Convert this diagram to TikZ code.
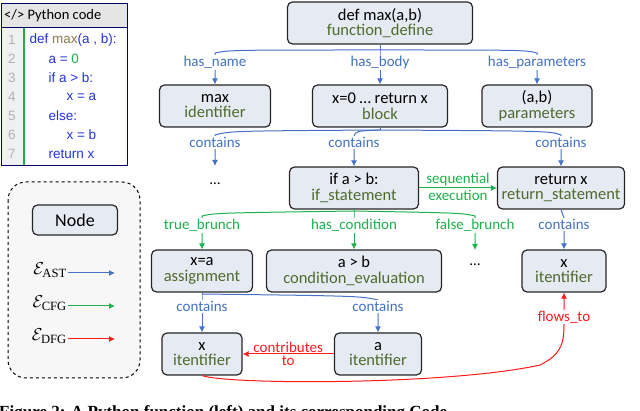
\documentclass[tikz,border=0pt]{standalone}
\usepackage{fontspec}
\usepackage{amsmath}
\setmainfont{Carlito}
\newfontfamily\codefont{Liberation Sans}
\newfontfamily\capfont{Liberation Serif}
\usetikzlibrary{arrows.meta,positioning}
\definecolor{astblue}{HTML}{4472C4}
\definecolor{cfggreen}{HTML}{1DB04B}
\definecolor{dfgred}{HTML}{FF1A1A}
\definecolor{typegreen}{HTML}{4E6B2E}
\definecolor{nodefill}{HTML}{E6EAF2}
\definecolor{kwblue}{HTML}{2233DD}
\definecolor{fnbrown}{HTML}{8A7A4E}
\tikzset{
  ast/.style={draw=astblue, line width=1pt, -{Latex[length=6pt,width=6pt]}},
  cfg/.style={draw=cfggreen, line width=1pt, -{Latex[length=6pt,width=6pt]}},
  dfg/.style={draw=dfgred, line width=1pt, -{Latex[length=6pt,width=6pt]}},
  astline/.style={draw=astblue, line width=1pt},
  cfgline/.style={draw=cfggreen, line width=1pt},
  lbl/.style={font=\fontsize{15}{16}\selectfont, fill=white, inner sep=1pt},
  cst/.style={draw=black!85, line width=1.2pt, fill=nodefill, rounded corners=5pt,
    minimum height=42pt, align=center, inner sep=1pt,
    font=\fontsize{16.5}{16.5}\selectfont},
  codeln/.style={anchor=west, font=\codefont\fontsize{13.5}{14}\selectfont, text=kwblue}
}
\newcommand{\typ}[1]{\\[-1pt]{\color{typegreen}#1}}
\begin{document}
\begin{tikzpicture}[x=1pt,y=-1pt]
  \useasboundingbox (0,0) rectangle (640,411);
  % code panel
  \fill[black!10] (1,3) rectangle (127,27);
  \fill[black!6] (1,27) rectangle (23,165);
  \draw[cfggreen, line width=1.5pt] (24,28) -- (24,165);
  \draw[blue!40!black, line width=0.8pt] (1,3) rectangle (127,165);
  \draw[blue!40!black, line width=0.8pt] (1,27) -- (127,27);
  \node[anchor=west, font=\fontsize{14.5}{15}\selectfont, inner sep=1pt] (codehead) at (3,16) {</> Python code};
  \foreach \i in {1,...,7}
    \node[font=\codefont\fontsize{13.5}{14}\selectfont, text=black!30] (ln\i) at (12,{21+19*\i}) {\i};
  \node[codeln] (c1) at (26,40) {def {\color{fnbrown}max}(a , b):};
  \node[codeln] (c2) at (45,59) {a = {\color{cfggreen}0}};
  \node[codeln] (c3) at (45,78) {if a > b:};
  \node[codeln] (c4) at (63,97) {x = a};
  \node[codeln] (c5) at (45,116) {else:};
  \node[codeln] (c6) at (63,135) {x = b};
  \node[codeln] (c7) at (45,154) {return x};

  % legend
  \draw[dashed, line width=1pt, fill=black!3, rounded corners=18pt] (8,182) rectangle (140,378);
  \node[cst, minimum width=85pt, minimum height=30pt, font=\fontsize{18}{18}\selectfont] (legnode) at (75,220) {Node};
  \node[font=\capfont\fontsize{18}{18}\selectfont, anchor=east, inner sep=1pt] (east) at (68,270) {$\mathcal{E}_{\text{AST}}$};
  \node[font=\capfont\fontsize{18}{18}\selectfont, anchor=east, inner sep=1pt] (ecfg) at (68,303) {$\mathcal{E}_{\text{CFG}}$};
  \node[font=\capfont\fontsize{18}{18}\selectfont, anchor=east, inner sep=1pt] (edfg) at (68,336) {$\mathcal{E}_{\text{DFG}}$};
  \coordinate (eastend) at (115,273);
  \coordinate (ecfgend) at (115,306);
  \coordinate (edfgend) at (115,339);
  \draw[ast] (east.east |- eastend) -- (eastend);
  \draw[cfg] (ecfg.east |- ecfgend) -- (ecfgend);
  \draw[dfg] (edfg.east |- edfgend) -- (edfgend);

  % nodes
  \node[cst, minimum width=185pt] (func) at (380,23) {def max(a,b)\typ{function\_define}};
  \node[cst, minimum width=111pt] (name) at (215,106) {max\typ{identifier}};
  \node[cst, minimum width=135pt] (block) at (380,106) {x=0 \dots{} return x\typ{block}};
  \node[cst, minimum width=110pt] (params) at (537,106) {(a,b)\typ{parameters}};
  \node[font=\fontsize{15}{16}\selectfont] (dots1) at (215,184) {\dots};
  \node[cst, minimum width=129pt] (ifst) at (354,188) {if a > b:\typ{if\_statement}};
  \node[cst, minimum width=127pt] (ret) at (561,188) {return x\typ{return\_statement}};
  \node[cst, minimum width=101pt] (assign) at (202,271) {x=a\typ{assignment}};
  \node[cst, minimum width=175pt] (cond) at (354,271) {a > b\typ{condition\_evaluation}};
  \node[font=\fontsize{15}{16}\selectfont] (dots2) at (475,265) {\dots};
  \node[cst, minimum width=84pt] (xret) at (564,271) {x\typ{itentifier}};
  \node[cst, minimum width=80pt] (xl) at (202,354) {x\typ{itentifier}};
  \node[cst, minimum width=87pt] (al) at (378,354) {a\typ{itentifier}};

  % function_define edges
  \coordinate (jf) at (380,50);
  \draw[astline] (func.south) -- (jf);
  \draw[ast] (jf) .. controls (230,50) .. (215,53) -- (215,55) node[lbl, text=astblue, below=0pt] {has\_name} -- (name.north);
  \draw[ast] (jf) -- (380,55) node[lbl, text=astblue, below=0pt] {has\_body} -- (block.north);
  \draw[ast] (jf) .. controls (525,50) .. (537,53) -- (537,55) node[lbl, text=astblue, below=0pt] {has\_parameters} -- (params.north);
  % block edges
  \coordinate (jb) at (380,130);
  \draw[astline] (block.south) -- (jb);
  \draw[ast] (jb) .. controls (230,131) .. (215,135) -- (215,136) node[lbl, text=astblue, below=0pt] {contains} -- (215,166);
  \draw[ast] (jb) .. controls (356,131) .. (354,136) node[lbl, text=astblue, below=0pt] {contains} -- (ifst.north);
  \draw[ast] (jb) .. controls (550,131) .. (561,135) -- (561,136) node[lbl, text=astblue, below=0pt] {contains} -- (ret.north);
  % if edges
  \draw[cfg] (ifst.east) -- (ret.west)
    node[midway, above=-2pt, text=cfggreen, font=\fontsize{15}{16}\selectfont] {sequential}
    node[midway, below=-2pt, text=cfggreen, font=\fontsize{15}{16}\selectfont] {execution};
  \coordinate (ji) at (354,211);
  \draw[cfgline] (ifst.south) -- (ji);
  \draw[cfg] (ji) .. controls (215,213) .. (202,216) -- (202,218) node[lbl, text=cfggreen, below=0pt] {true\_brunch} -- (assign.north);
  \draw[cfg] (ji) -- (354,218) node[lbl, text=cfggreen, below=0pt] {has\_condition} -- (cond.north);
  \draw[cfg] (ji) .. controls (462,213) .. (475,216) -- (475,218) node[lbl, text=cfggreen, below=0pt] {false\_brunch} -- (475,250);
  \draw[ast] (ret.south) -- (564,218) node[lbl, text=astblue, below=0pt] {contains} -- (xret.north);
  % assignment edges
  \coordinate (ja) at (202,294);
  \draw[astline] (assign.south) -- (ja);
  \draw[ast] (ja) -- (202,300) node[lbl, text=astblue, below=0pt] {contains} -- (xl.north);
  \draw[ast] (ja) .. controls (360,296) .. (378,300) node[lbl, text=astblue, below=0pt] {contains} -- (al.north);
  % data flow
  \draw[dfg] (al.west) -- (xl.east)
    node[midway, above=-2pt, text=dfgred, font=\fontsize{15}{16}\selectfont] {contributes}
    node[midway, below=-2pt, text=dfgred, font=\fontsize{15}{16}\selectfont] {to};
  \draw[dfg] (xl.south) .. controls (230,385) and (450,385) .. (540,365)
    .. controls (560,355) and (564,345) .. (564,325)
    node[lbl, text=dfgred, pos=1, above=0pt] {flows\_to} -- (xret.south);

  % caption
  \node[anchor=west, font=\capfont\bfseries\fontsize{17}{18}\selectfont, inner sep=0pt] (caption) at (-1,413) {Figure 2: A Python function (left) and its corresponding Code};
\end{tikzpicture}
\end{document}
